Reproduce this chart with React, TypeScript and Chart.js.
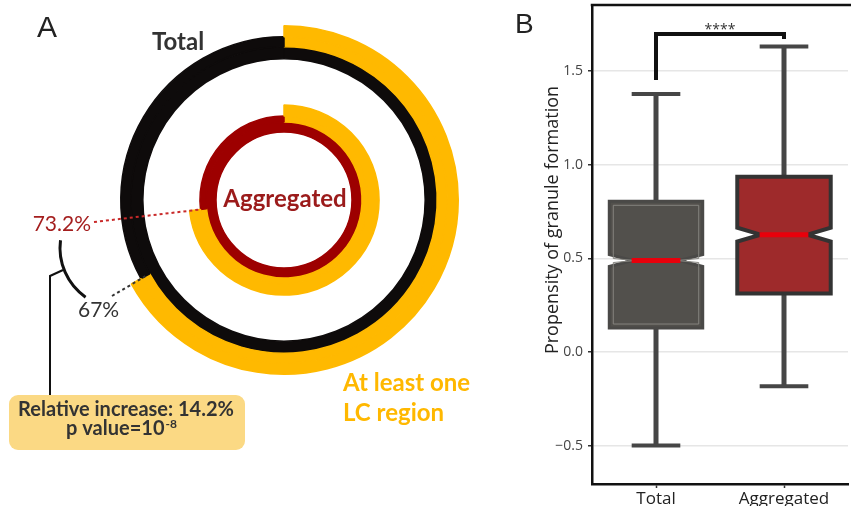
import React, { useEffect, useRef } from "react";
import { Chart, registerables } from "chart.js";
Chart.register(...registerables);

// ---------- Panel A data ----------
const RING_NAMES = ["Total", "Aggregated"];
const LC_PERCENT = [67, 73.2]; // % with at least one LC region
const PCT_LABELS = ["67%", "73.2%"];
const RELATIVE_INCREASE = "14.2%";
const P_EXPONENT = "-8";

// ---------- Panel B data ----------
const CATEGORIES = ["Total", "Aggregated"];
const WHISKER_LOW = [-0.497, -0.181];
const Q1 = [0.129, 0.313];
const MEDIAN = [0.489, 0.627];
const Q3 = [0.805, 0.936];
const WHISKER_HIGH = [1.377, 1.63];
const NOTCH_HALF = [0.032, 0.037];
const Y_TICKS = [-0.5, 0, 0.5, 1.0, 1.5];
const Y_MIN = -0.703;
const Y_MAX = 1.852;
const SIG_BRACKET = [1.452, 1.697, 1.671];
const SIG_LABEL = "****";

const YELLOW = "#FFB900";
const BLACK = "#0e0b0b";
const RING_RED = "#9d0000";
const CLEAR = "rgba(0,0,0,0)";
const FONT_A = "Lato, 'Open Sans', sans-serif";
const FONT_B = "'Open Sans', sans-serif";

const annotA = {
  id: "annotA",
  afterDraw(chart: any) {
    const ctx = chart.ctx as CanvasRenderingContext2D;
    ctx.save();
    // panel letter
    ctx.fillStyle = "#222";
    ctx.font = "30px 'Liberation Sans', Arial, sans-serif";
    ctx.textAlign = "left";
    ctx.textBaseline = "alphabetic";
    ctx.fillText("A", 37, 37);

    // ring names
    ctx.font = `bold 24px ${FONT_A}`;
    ctx.fillStyle = "#333";
    ctx.fillText(RING_NAMES[0], 152, 50);
    ctx.fillStyle = "#9b1b1b";
    ctx.textAlign = "center";
    ctx.fillText(RING_NAMES[1], 285, 207);

    // LC label
    ctx.textAlign = "left";
    ctx.fillStyle = "#FFB800";
    ctx.font = `bold 24px ${FONT_A}`;
    ctx.fillText("At least one", 343, 391);
    ctx.fillText("LC region", 343, 421);

    // percentages
    ctx.font = `21px ${FONT_A}`;
    ctx.fillStyle = "#a41e1e";
    ctx.textAlign = "right";
    ctx.fillText(PCT_LABELS[1], 91, 231);
    ctx.fillStyle = "#333";
    ctx.textAlign = "left";
    ctx.fillText(PCT_LABELS[0], 78, 317);

    // dotted leaders to the ends of the yellow arcs
    const innerArc = chart.getDatasetMeta(5).data[0];
    const outerArc = chart.getDatasetMeta(1).data[0];
    const ri = innerArc.outerRadius + 1;
    const ro = (outerArc.innerRadius + outerArc.outerRadius) / 2;
    ctx.setLineDash([3, 3]);
    ctx.lineWidth = 2;
    ctx.strokeStyle = "#c92a2a";
    ctx.beginPath();
    ctx.moveTo(94, 222);
    ctx.lineTo(innerArc.x + ri * Math.cos(innerArc.endAngle), innerArc.y + ri * Math.sin(innerArc.endAngle));
    ctx.stroke();
    ctx.strokeStyle = "#333";
    ctx.beginPath();
    ctx.moveTo(112, 296);
    ctx.lineTo(outerArc.x + ro * Math.cos(outerArc.endAngle), outerArc.y + ro * Math.sin(outerArc.endAngle));
    ctx.stroke();
    ctx.setLineDash([]);

    // curly bracket and connector
    ctx.strokeStyle = "#111";
    ctx.lineWidth = 3;
    ctx.beginPath();
    ctx.arc(120, 248, 60, (125 * Math.PI) / 180, (187.4 * Math.PI) / 180);
    ctx.stroke();
    ctx.lineWidth = 2;
    ctx.beginPath();
    ctx.moveTo(63, 270);
    ctx.lineTo(50, 276);
    ctx.lineTo(50, 396);
    ctx.stroke();

    // result box
    ctx.fillStyle = "#FBD984";
    ctx.beginPath();
    (ctx as any).roundRect(9, 395, 236, 55, 9);
    ctx.fill();
    ctx.fillStyle = "#333";
    ctx.textAlign = "center";
    ctx.font = `bold 20px ${FONT_A}`;
    ctx.fillText(`Relative increase: ${RELATIVE_INCREASE}`, 126, 416);
    const main = "p value=10";
    const w1 = ctx.measureText(main).width;
    ctx.font = `bold 12px ${FONT_A}`;
    const w2 = ctx.measureText(P_EXPONENT).width;
    const sx = 121 - (w1 + w2) / 2;
    ctx.textAlign = "left";
    ctx.font = `bold 20px ${FONT_A}`;
    ctx.fillText(main, sx, 435);
    ctx.font = `bold 12px ${FONT_A}`;
    ctx.fillText(P_EXPONENT, sx + w1 + 1, 428);
    ctx.restore();
  },
};

const ringDs = (data: number[], colors: string[], weight: number) => ({
  data,
  backgroundColor: colors,
  borderColor: colors,
  borderWidth: 1.5,
  weight,
});

const configA: any = {
  type: "doughnut",
  data: {
    labels: ["LC", "other"],
    datasets: [
      ringDs([LC_PERCENT[0], 100 - LC_PERCENT[0]], [YELLOW, CLEAR], 11),
      ringDs([LC_PERCENT[0], 100 - LC_PERCENT[0]], [YELLOW, BLACK], 10),
      ringDs([100], [BLACK], 12),
      ringDs([100], [CLEAR], 46),
      ringDs([LC_PERCENT[1], 100 - LC_PERCENT[1]], [YELLOW, CLEAR], 11),
      ringDs([LC_PERCENT[1], 100 - LC_PERCENT[1]], [YELLOW, RING_RED], 6),
      ringDs([100], [RING_RED], 10),
    ],
  },
  options: {
    responsive: false,
    animation: false,
    events: [],
    cutout: 68,
    layout: { padding: { left: 109, top: 25, right: 41, bottom: 131 } },
    plugins: { legend: { display: false }, tooltip: { enabled: false } },
  },
  plugins: [annotA],
};

const fmt = (v: number) => (v < 0 ? "\u2212" : "") + Math.abs(v).toFixed(1);

const boxPlugin = {
  id: "boxPlugin",
  afterDatasetsDraw(chart: any) {
    const ctx = chart.ctx as CanvasRenderingContext2D;
    const x = chart.scales.x;
    const y = chart.scales.y;
    ctx.save();
    CATEGORIES.forEach((_, i) => {
      const xc = x.getPixelForValue(i);
      const hw = x.getPixelForValue(i + 0.365) - xc;
      const cap = x.getPixelForValue(i + 0.19) - xc;
      const nw = hw * 0.5;
      const y1 = y.getPixelForValue(Q1[i]);
      const y3 = y.getPixelForValue(Q3[i]);
      const ym = y.getPixelForValue(MEDIAN[i]);
      const nUp = y.getPixelForValue(MEDIAN[i] + NOTCH_HALF[i]);
      const nLo = y.getPixelForValue(MEDIAN[i] - NOTCH_HALF[i]);
      const yh = y.getPixelForValue(WHISKER_HIGH[i]);
      const yl = y.getPixelForValue(WHISKER_LOW[i]);
      // whiskers
      ctx.strokeStyle = "#464646";
      ctx.lineWidth = 5;
      ctx.beginPath();
      ctx.moveTo(xc, yh);
      ctx.lineTo(xc, y3);
      ctx.moveTo(xc, y1);
      ctx.lineTo(xc, yl);
      ctx.stroke();
      ctx.lineWidth = 4;
      ctx.beginPath();
      ctx.moveTo(xc - cap, yh);
      ctx.lineTo(xc + cap, yh);
      ctx.moveTo(xc - cap, yl);
      ctx.lineTo(xc + cap, yl);
      ctx.stroke();
      // notched box
      const poly = (h: number, t: number, b: number, n: number, nu: number, nl: number) => {
        ctx.beginPath();
        ctx.moveTo(xc - h, t);
        ctx.lineTo(xc + h, t);
        ctx.lineTo(xc + h, nu);
        ctx.lineTo(xc + n, ym);
        ctx.lineTo(xc + h, nl);
        ctx.lineTo(xc + h, b);
        ctx.lineTo(xc - h, b);
        ctx.lineTo(xc - h, nl);
        ctx.lineTo(xc - n, ym);
        ctx.lineTo(xc - h, nu);
        ctx.closePath();
      };
      poly(hw, y3, y1, nw, nUp, nLo);
      ctx.lineJoin = "miter";
      if (i === 0) {
        ctx.fillStyle = "#52504c";
        ctx.fill();
        ctx.strokeStyle = "#4a4947";
        ctx.lineWidth = 3;
        ctx.stroke();
        poly(hw - 4, y3 + 4, y1 - 4, nw - 3, nUp + 4, nLo - 4);
        ctx.strokeStyle = "#85847f";
        ctx.lineWidth = 1;
        ctx.stroke();
      } else {
        ctx.fillStyle = "#9e2a2b";
        ctx.fill();
        ctx.strokeStyle = "#333";
        ctx.lineWidth = 4;
        ctx.stroke();
      }
      // median
      ctx.strokeStyle = "#e8000b";
      ctx.lineWidth = 5;
      ctx.beginPath();
      ctx.moveTo(xc - nw - 1, ym);
      ctx.lineTo(xc + nw + 1, ym);
      ctx.stroke();
    });
    // significance bracket
    const xa = x.getPixelForValue(0);
    const xb = x.getPixelForValue(1);
    ctx.strokeStyle = "#111";
    ctx.lineWidth = 4;
    ctx.lineJoin = "miter";
    ctx.beginPath();
    ctx.moveTo(xa, y.getPixelForValue(SIG_BRACKET[0]));
    ctx.lineTo(xa, y.getPixelForValue(SIG_BRACKET[1]));
    ctx.lineTo(xb, y.getPixelForValue(SIG_BRACKET[1]));
    ctx.lineTo(xb, y.getPixelForValue(SIG_BRACKET[2]));
    ctx.stroke();
    ctx.fillStyle = "#333";
    ctx.font = `14px ${FONT_B}`;
    ctx.textAlign = "center";
    ctx.textBaseline = "alphabetic";
    ctx.fillText(SIG_LABEL, (xa + xb) / 2, y.getPixelForValue(SIG_BRACKET[1]));
    ctx.restore();
  },
  afterDraw(chart: any) {
    const ctx = chart.ctx as CanvasRenderingContext2D;
    const a = chart.chartArea;
    ctx.save();
    ctx.strokeStyle = "#111";
    ctx.lineWidth = 2.5;
    ctx.beginPath();
    ctx.moveTo(a.left - 1.25, a.top);
    ctx.lineTo(chart.width, a.top);
    ctx.stroke();
    // y title
    ctx.fillStyle = "#222";
    ctx.font = `18px ${FONT_B}`;
    ctx.translate(58, 220);
    ctx.rotate(-Math.PI / 2);
    ctx.textAlign = "center";
    ctx.textBaseline = "alphabetic";
    ctx.fillText("Propensity of granule formation", 0, 0);
    ctx.restore();
    ctx.save();
    ctx.fillStyle = "#222";
    ctx.font = "28px 'Liberation Sans', Arial, sans-serif";
    ctx.fillText("B", 15, 33);
    ctx.restore();
  },
};

const configB: any = {
  type: "line",
  data: {
    labels: CATEGORIES,
    datasets: [{ data: MEDIAN, showLine: false, pointRadius: 0, borderWidth: 0 }],
  },
  options: {
    responsive: false,
    animation: false,
    events: [],
    layout: { padding: { top: 5, right: 3, left: 0, bottom: 0 } },
    plugins: { legend: { display: false }, tooltip: { enabled: false } },
    scales: {
      x: {
        type: "category",
        offset: true,
        grid: { display: true, drawOnChartArea: false, offset: false, tickLength: 4, tickColor: "#333", tickWidth: 1.5 },
        border: { display: true, color: "#111", width: 2.5 },
        ticks: { font: { family: FONT_B, size: 17 }, color: "#222", padding: 1, maxRotation: 0 },
        afterFit: (s: any) => {
          s.height = 22;
          s.paddingLeft = 0;
          s.paddingRight = 0;
        },
      },
      y: {
        type: "linear",
        min: Y_MIN,
        max: Y_MAX,
        afterBuildTicks: (s: any) => {
          s.ticks = Y_TICKS.map((v) => ({ value: v }));
        },
        ticks: { font: { family: FONT_B, size: 14 }, color: "#444", padding: 5, callback: (v: number) => fmt(v) },
        grid: { color: "#e6e6e6", lineWidth: 1.5, tickLength: 4, tickColor: "#333", tickWidth: 1.5 },
        border: { display: true, color: "#111", width: 2.5 },
        afterFit: (s: any) => {
          s.width = 92;
          s.paddingTop = 0;
          s.paddingBottom = 0;
        },
      },
    },
  },
  plugins: [boxPlugin],
};

export default function App() {
  const aRef = useRef<HTMLCanvasElement>(null);
  const bRef = useRef<HTMLCanvasElement>(null);
  useEffect(() => {
    const ca = new Chart(aRef.current as HTMLCanvasElement, configA);
    const cb = new Chart(bRef.current as HTMLCanvasElement, configB);
    return () => {
      ca.destroy();
      cb.destroy();
    };
  }, []);
  return (
    <div style={{ position: "absolute", left: 0, top: 0, width: 851, height: 506, background: "#fff", overflow: "hidden" }}>
      <canvas ref={aRef} width={500} height={506} style={{ position: "absolute", left: 0, top: 0, width: 500, height: 506 }} />
      <canvas ref={bRef} width={351} height={506} style={{ position: "absolute", left: 500, top: 0, width: 351, height: 506 }} />
    </div>
  );
}
